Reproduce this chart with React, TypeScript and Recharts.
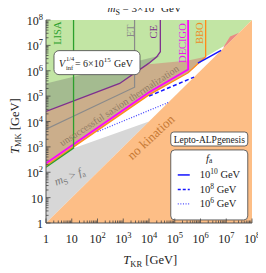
import React from 'react';
import { ComposedChart, XAxis, YAxis, Area, Line, ReferenceDot } from 'recharts';

const FONT = '"Liberation Serif", "DejaVu Serif", serif';
const E = (v: number) => Math.pow(10, v);

// ---- values, in log10(GeV) ----
const tickExps = [0, 1, 2, 3, 4, 5, 6, 7, 8];

// shaded regions: x, lower edge, upper edge
const noKinX = [0, 8];
const noKinLo = [0, 0];
const noKinHi = [0, 8];

const msFaX = [0, 1.07, 4.0];
const msFaLo = [0, 1.07, 4.0];
const msFaHi = [2.2, 2.95, 4.0];

const greenX = [0, 4.0, 5.52, 6.2, 7.05, 8];
const greenLo = [2.25, 5.05, 5.92, 6.55, 7.05, 8];
const greenHi = [8, 8, 8, 8, 8, 8];

const vinfX = [0, 2.86, 4.0, 4.44];
const vinfLo = [4.4, 5.5, 6.3, 6.6];
const vinfHi = [5.5, 6.21, 6.49, 6.6];

const thermX = [0, 2.86, 3.9, 5.52, 6.2];
const thermLo = [2.25, 4.25, 4.98, 5.92, 6.55];
const thermHi = [4.4, 5.5, 6.25, 6.4, 6.55];

const redX = [6.9, 7.15, 7.5];
const redLo = [6.9, 7.15, 7.5];
const redHi = [6.95, 7.35, 7.5];

// detector curves
const lisaX = [0, 1.07, 1.07];
const lisaY = [2.2, 2.95, 8];
const etX = [0, 3.44, 3.44];
const etY = [3.7, 5.35, 8];
const ceX = [0, 2.86, 4.0, 4.3, 4.44, 4.44];
const ceY = [4.4, 5.5, 6.3, 6.55, 6.75, 8];
const decigoX = [0, 4.0, 5.52, 5.52];
const decigoY = [2.35, 5.15, 6.05, 8];
const bboX = [0, 4.0, 5.52, 6.2, 6.2];
const bboY = [2.25, 5.05, 5.92, 6.55, 8];

// Lepto-ALPgenesis lines for f_a
const fa10X = [5.9, 6.8];
const fa10Y = [6.3, 6.8];
const fa8X = [4.0, 5.75];
const fa8Y = [5.0, 5.75];
const fa6X = [2.0, 4.75];
const fa6Y = [3.6, 4.75];

const band = (xs: number[], lo: number[], hi: number[]) =>
  xs.map((x, i) => ({ x: E(x), r: [E(lo[i]), E(hi[i])] }));
const path = (xs: number[], ys: number[]) => xs.map((x, i) => ({ x: E(x), y: E(ys[i]) }));

const majorTicks = tickExps.map(E);
const allTicks: number[] = [];
tickExps.forEach((k) => {
  allTicks.push(E(k));
  if (k < 8) for (let m = 2; m <= 9; m++) allTicks.push(m * E(k));
});

const isMajor = (v: number) => {
  const l = Math.log10(v);
  return Math.abs(l - Math.round(l)) < 1e-9;
};

const tickLabel = (k: number) =>
  k === 0 ? '1' : k === 1 ? '10' : [
    <tspan key="b">10</tspan>,
    <tspan key="s" dy={-5} fontSize={8.5}>{k}</tspan>,
  ];

const XTick = (p: any) => {
  const { x, y, payload } = p;
  const v = payload.value;
  const maj = isMajor(v);
  return (
    <g>
      <line x1={x} x2={x} y1={y} y2={y - (maj ? 4.5 : 2.5)} stroke="#444" strokeWidth={0.8} />
      {maj && (
        <text x={x} y={y + 20} textAnchor="middle" fontFamily={FONT} fontSize={12} fill="#222">
          {tickLabel(Math.round(Math.log10(v)))}
        </text>
      )}
    </g>
  );
};

const YTick = (p: any) => {
  const { x, y, payload } = p;
  const v = payload.value;
  const maj = isMajor(v);
  return (
    <g>
      <line x1={x} x2={x + (maj ? 4.5 : 2.5)} y1={y} y2={y} stroke="#444" strokeWidth={0.8} />
      {maj && (
        <text x={x - 3} y={y + 5} textAnchor="end" fontFamily={FONT} fontSize={12} fill="#222">
          {tickLabel(Math.round(Math.log10(v)))}
        </text>
      )}
    </g>
  );
};

const at = (key: string, lx: number, ly: number, render: (cx: number, cy: number) => any) => (
  <ReferenceDot
    key={key}
    x={E(lx)}
    y={E(ly)}
    r={0}
    ifOverflow="visible"
    shape={(p: any) => render(p.cx, p.cy)}
  />
);

const vlabel = (key: string, lx: number, ly: number, txt: string, color: string) =>
  at(key, lx, ly, (cx, cy) => (
    <text x={cx} y={cy} transform={`rotate(-90 ${cx} ${cy})`} textAnchor="middle"
      fontFamily={FONT} fontSize={10.5} fill={color}>{txt}</text>
  ));

export default function App() {
  return (
    <div style={{ marginTop: -8 }}>
      <ComposedChart width={258} height={273} margin={{ top: 20, right: 14, bottom: 0, left: 0 }}>
        <XAxis dataKey="x" type="number" scale="log" domain={[1, 1e8]} allowDataOverflow
          ticks={allTicks} interval={0} tick={<XTick />} tickSize={0} tickMargin={0} tickLine={false}
          height={50} axisLine={{ stroke: '#555', strokeWidth: 1 }} />
        <XAxis xAxisId="top" orientation="top" dataKey="x" type="number" scale="log" domain={[1, 1e8]}
          allowDataOverflow ticks={majorTicks} tick={false} tickLine={false} height={0}
          axisLine={{ stroke: '#555', strokeWidth: 1 }} />
        <YAxis type="number" scale="log" domain={[1, 1e8]} allowDataOverflow
          ticks={allTicks} interval={0} tick={<YTick />} tickSize={0} tickMargin={0} tickLine={false}
          width={38} axisLine={{ stroke: '#555', strokeWidth: 1 }} />
        <YAxis yAxisId="right" orientation="right" type="number" scale="log" domain={[1, 1e8]}
          allowDataOverflow ticks={majorTicks} tick={false} tickLine={false} width={0}
          axisLine={{ stroke: '#555', strokeWidth: 1 }} />

        <Area data={band(greenX, greenLo, greenHi)} dataKey="r" type="linear" stroke="none"
          fill="#c2e5a4" fillOpacity={1} isAnimationActive={false} dot={false} activeDot={false} />
        <Area data={band(vinfX, vinfLo, vinfHi)} dataKey="r" type="linear" stroke="none"
          fill="#6e6e6e" fillOpacity={0.35} isAnimationActive={false} dot={false} activeDot={false} />
        <Area data={band(thermX, thermLo, thermHi)} dataKey="r" type="linear" stroke="none"
          fill="#d8626a" fillOpacity={0.42} isAnimationActive={false} dot={false} activeDot={false} />
        <Area data={band(msFaX, msFaLo, msFaHi)} dataKey="r" type="linear" stroke="none"
          fill="#d7d7d7" fillOpacity={1} isAnimationActive={false} dot={false} activeDot={false} />
        <Area data={band(noKinX, noKinLo, noKinHi)} dataKey="r" type="linear" stroke="none"
          fill="#fdbe86" fillOpacity={1} isAnimationActive={false} dot={false} activeDot={false} />
        <Area data={band(redX, redLo, redHi)} dataKey="r" type="linear" stroke="none"
          fill="#f08080" fillOpacity={0.9} isAnimationActive={false} dot={false} activeDot={false} />

        <Line data={path(etX, etY)} dataKey="y" type="linear" stroke="#8a8a8a" strokeWidth={1.2}
          dot={false} activeDot={false} isAnimationActive={false} />
        <Line data={path(ceX, ceY)} dataKey="y" type="linear" stroke="#7e2f8e" strokeWidth={1.3}
          dot={false} activeDot={false} isAnimationActive={false} />
        <Line data={path(bboX, bboY)} dataKey="y" type="linear" stroke="#ff8a1a" strokeWidth={1.3}
          dot={false} activeDot={false} isAnimationActive={false} />
        <Line data={path(decigoX, decigoY)} dataKey="y" type="linear" stroke="#ff00ff" strokeWidth={1.8}
          dot={false} activeDot={false} isAnimationActive={false} />
        <Line data={path(lisaX, lisaY)} dataKey="y" type="linear" stroke="#2ca02c" strokeWidth={1.3}
          dot={false} activeDot={false} isAnimationActive={false} />

        <Line data={path(fa10X, fa10Y)} dataKey="y" type="linear" stroke="#1414ff" strokeWidth={1.5}
          dot={false} activeDot={false} isAnimationActive={false} />
        <Line data={path(fa8X, fa8Y)} dataKey="y" type="linear" stroke="#1414ff" strokeWidth={1.5}
          strokeDasharray="4 2.5" dot={false} activeDot={false} isAnimationActive={false} />
        <Line data={path(fa6X, fa6Y)} dataKey="y" type="linear" stroke="#4a4aff" strokeWidth={1.3}
          strokeDasharray="1 1.6" dot={false} activeDot={false} isAnimationActive={false} />

        {at('title', 3.83, 8, (cx, cy) => (
          <text x={cx} y={cy - 8} textAnchor="middle" fontFamily={FONT} fontSize={11} fill="#222">
            <tspan fontStyle="italic">m</tspan>
            <tspan fontSize={8} dy={2.5}>S</tspan>
            <tspan dy={-2.5}> = 3×10</tspan>
            <tspan dy={-4.5} fontSize={8}>4</tspan>
            <tspan dy={4.5}> GeV</tspan>
          </text>
        ))}
        {at('xtitle', 4.05, 0, (cx, cy) => (
          <text x={cx} y={cy + 41} textAnchor="middle" fontFamily={FONT} fontSize={12.5} fill="#222">
            <tspan fontStyle="italic">T</tspan>
            <tspan fontSize={8.5} dy={2.5}>KR</tspan>
            <tspan dy={-2.5}> [GeV]</tspan>
          </text>
        ))}
        {at('ytitle', 0, 3.82, (cx, cy) => (
          <text x={cx - 27} y={cy} transform={`rotate(-90 ${cx - 27} ${cy})`} textAnchor="middle"
            fontFamily={FONT} fontSize={12.5} fill="#222">
            <tspan fontStyle="italic">T</tspan>
            <tspan fontSize={8.5} dy={2.5}>MK</tspan>
            <tspan dy={-2.5}> [GeV]</tspan>
          </text>
        ))}

        {vlabel('lisa', 0.59, 7.48, 'LISA', '#2ca02c')}
        {vlabel('et', 3.40, 7.57, 'ET', '#8a8a8a')}
        {vlabel('ce', 4.33, 7.54, 'CE', '#7e2f8e')}
        {vlabel('decigo', 5.44, 7.09, 'DECIGO', '#e81ee8')}
        {vlabel('bbo', 6.08, 7.48, 'BBO', '#f08a24')}

        {at('vinf', 1.98, 6.32, (cx, cy) => (
          <g>
            <rect x={cx - 43} y={cy - 12} width={86} height={24} rx={5} fill="#fff" stroke="#555" strokeWidth={0.9} />
            <text fontFamily={FONT} fontSize={10} fill="#222">
              <tspan x={cx - 38} y={cy + 4} fontStyle="italic">V</tspan>
              <tspan x={cx - 31} y={cy - 1.5} fontSize={6.5}>1/4</tspan>
              <tspan x={cx - 31} y={cy + 7} fontSize={6.5}>inf</tspan>
              <tspan x={cx - 22} y={cy + 4}>= 6×10</tspan>
              <tspan dy={-4.5} fontSize={7}>15</tspan>
              <tspan x={cx + 17} y={cy + 4}>GeV</tspan>
            </text>
          </g>
        ))}

        {at('sax', 2.84, 4.63, (cx, cy) => (
          <text x={cx} y={cy} dy="0.35em" transform={`rotate(-33 ${cx} ${cy})`} textAnchor="middle"
            fontFamily={FONT} fontSize={10} fill="#8a7560" fillOpacity={0.9}>
            unsuccessful saxion thermalization
          </text>
        ))}
        {at('msfa', 0.91, 1.85, (cx, cy) => (
          <text x={cx} y={cy} dy="0.35em" transform={`rotate(-22 ${cx} ${cy})`} textAnchor="middle"
            fontFamily={FONT} fontSize={11.5} fill="#7a7a7a">
            <tspan fontStyle="italic">m</tspan>
            <tspan fontSize={8} dy={2.5}>S</tspan>
            <tspan dy={-2.5}> &gt; </tspan>
            <tspan fontStyle="italic">f</tspan>
            <tspan fontSize={8} dy={2.5}>a</tspan>
          </text>
        ))}
        {at('nokin', 4.07, 3.39, (cx, cy) => (
          <text x={cx} y={cy} dy="0.35em" transform={`rotate(-43 ${cx} ${cy})`} textAnchor="middle"
            fontFamily={FONT} fontSize={13} fill="#c77a35">
            no kination
          </text>
        ))}

        {at('leg1', 6.34, 3.31, (cx, cy) => (
          <g>
            <rect x={cx - 38.5} y={cy - 7} width={77} height={14} rx={3} fill="#fff" stroke="#555" strokeWidth={0.9} />
            <text x={cx} y={cy + 3.5} textAnchor="middle" fontFamily={FONT} fontSize={9.5} fill="#222">
              Lepto-ALPgenesis
            </text>
          </g>
        ))}
        {at('leg2', 6.34, 1.50, (cx, cy) => (
          <g>
            <rect x={cx - 38.5} y={cy - 35} width={77} height={70} rx={4} fill="#fff" stroke="#555" strokeWidth={0.9} />
            <text x={cx} y={cy - 23} textAnchor="middle" fontFamily={FONT} fontSize={10.5} fill="#222">
              <tspan fontStyle="italic">f</tspan>
              <tspan fontSize={7.5} dy={1.5}>a</tspan>
            </text>
            <line x1={cx - 31.5} x2={cx - 19.5} y1={cy - 10} y2={cy - 10} stroke="#1414ff" strokeWidth={1.5} />
            <line x1={cx - 31.5} x2={cx - 19.5} y1={cy + 4.5} y2={cy + 4.5} stroke="#1414ff" strokeWidth={1.5} strokeDasharray="3 2" />
            <line x1={cx - 31.5} x2={cx - 19.5} y1={cy + 19} y2={cy + 19} stroke="#4a4aff" strokeWidth={1.3} strokeDasharray="1 1.6" />
            <text x={cx - 9.5} y={cy - 6.5} fontFamily={FONT} fontSize={10.5} fill="#222">
              <tspan>10</tspan><tspan dy={-4} fontSize={7.5}>10</tspan><tspan dy={4}> GeV</tspan>
            </text>
            <text x={cx - 9.5} y={cy + 8} fontFamily={FONT} fontSize={10.5} fill="#222">
              <tspan>10</tspan><tspan dy={-4} fontSize={7.5}>8</tspan><tspan dy={4}> GeV</tspan>
            </text>
            <text x={cx - 9.5} y={cy + 22.5} fontFamily={FONT} fontSize={10.5} fill="#222">
              <tspan>10</tspan><tspan dy={-4} fontSize={7.5}>6</tspan><tspan dy={4}> GeV</tspan>
            </text>
          </g>
        ))}
      </ComposedChart>
    </div>
  );
}
